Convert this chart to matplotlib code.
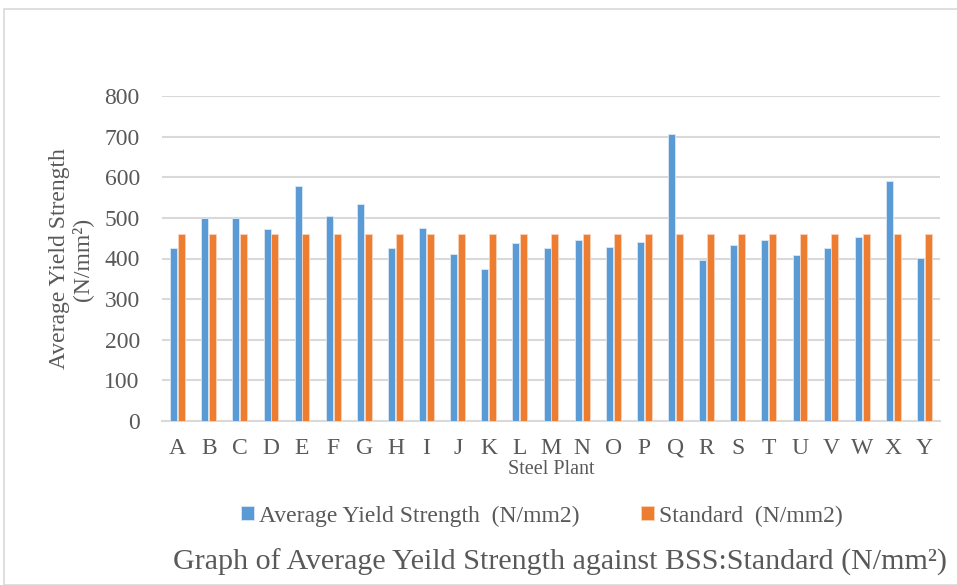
import matplotlib
matplotlib.use("Agg")
import matplotlib.pyplot as plt
import numpy as np
from matplotlib.patches import Rectangle

plants = list("ABCDEFGHIJKLMNOPQRSTUVWXY")
avg_yield = [426, 499, 500, 473, 579, 504, 534, 426, 474, 412, 373, 439, 426, 446,
             429, 440, 707, 396, 434, 445, 409, 426, 453, 592, 401]
standard = [460] * 25
yticks = [0, 100, 200, 300, 400, 500, 600, 700, 800]

plt.rcParams['font.family'] = ['Liberation Serif', 'DejaVu Serif']
txt = '#595959'

fig = plt.figure(figsize=(9.57, 5.85), dpi=100)
ax = fig.add_axes([162/957, 1-421/585, (940-162)/957, (421-96)/585])

x = np.arange(len(plants))
w = 0.225
ax.bar(x - 0.125, avg_yield, width=w, color='#5B9BD5', edgecolor='#DCE8F5', linewidth=0.6,
       label='Average Yield Strength  (N/mm2)', zorder=3)
ax.bar(x + 0.125, standard, width=w, color='#ED7D31', edgecolor='#F8D3BC', linewidth=0.6,
       label='Standard  (N/mm2)', zorder=3)

ax.set_xlim(-0.5, len(plants) - 0.5)
ax.set_ylim(0, 800)
ax.set_yticks(yticks)
ax.set_xticks(x)
ax.set_xticklabels(plants)
ax.yaxis.grid(True, color='#D9D9D9', linewidth=1.5, zorder=0)
ax.set_axisbelow(True)
for s in ['top', 'right', 'left']:
    ax.spines[s].set_visible(False)
ax.spines['bottom'].set_color('#D9D9D9')
ax.spines['bottom'].set_linewidth(1.5)
ax.tick_params(axis='y', length=0, labelsize=17, colors=txt, pad=16)
ax.tick_params(axis='x', length=0, labelsize=17, colors=txt, pad=12)

ax.set_xlabel('Steel Plant', fontsize=14.5, color=txt, labelpad=1)
fig.text(71/957, 1-259/585, 'Average Yield Strength\n(N/mm\u00b2)', rotation=90,
         ha='center', va='center', fontsize=17, color=txt, linespacing=1.1,
         multialignment='center')

leg = fig.legend(loc='center', bbox_to_anchor=(542/957, 1-516/585), ncol=2, frameon=False,
                 fontsize=17, handlelength=0.55, handleheight=0.55, handletextpad=0.2,
                 columnspacing=2.6, labelcolor=txt)

fig.text(560/957, 1-562/585, 'Graph of Average Yeild Strength against BSS:Standard (N/mm\u00b2)',
         ha='center', va='center', fontsize=21.6, color=txt)

fig.patches.append(Rectangle((4/957, 0), 1.2, 1-9/585, transform=fig.transFigure,
                             fill=False, edgecolor='#D9D9D9', linewidth=1.2))

fig.savefig('out.png', dpi=100)
